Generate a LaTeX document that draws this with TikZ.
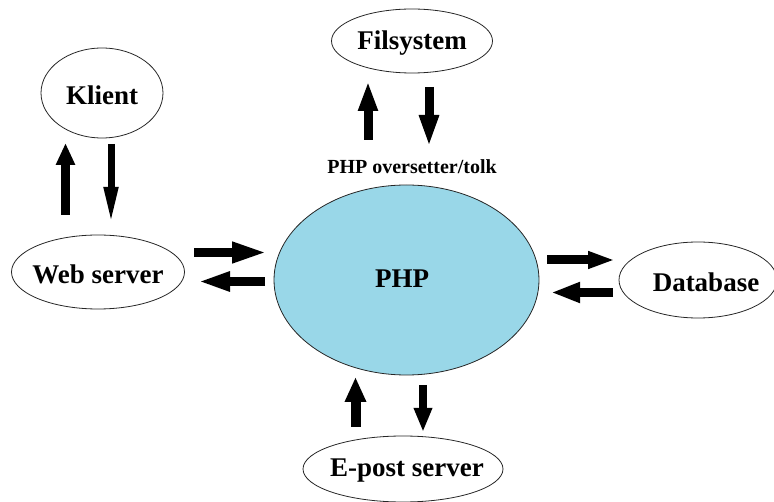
\documentclass[tikz,border=0pt]{standalone}
\usepackage{fontspec}
\setmainfont{Liberation Serif}
\usetikzlibrary{arrows.meta,shapes.geometric}
\definecolor{phpblue}{RGB}{153,215,232}
\tikzset{
  oval/.style={ellipse, draw=black!85, line width=0.8pt, fill=white, inner sep=0pt},
  lbl/.style={font=\fontsize{27}{30}\selectfont\bfseries, inner sep=0pt},
  small/.style={font=\fontsize{20}{24}\selectfont\bfseries, inner sep=0pt},
  flow/.style={line width=9pt, -{Triangle[length=22pt,width=18pt]}},
  thin flow/.style={line width=7pt, -{Triangle[length=38pt,width=13pt]}},
}
\begin{document}
\begin{tikzpicture}[x=1pt,y=-1pt]
\useasboundingbox (0,0) rectangle (774,502);
% the ellipses
\node[oval, minimum width=122pt, minimum height=90pt] (klient) at (102,93) {};
\node[lbl] (klienttxt) at (102,95) {Klient};
\node[oval, minimum width=161pt, minimum height=64pt] (fil) at (412,41) {};
\node[lbl] (filtxt) at (412,43) {Filsystem};
\node[oval, minimum width=173pt, minimum height=74pt] (web) at (98,272) {};
\node[lbl] (webtxt) at (98,274) {Web server};
\node[oval, fill=phpblue, minimum width=265pt, minimum height=190pt] (php) at (406.5,280) {};
\node[lbl] (phptxt) at (402,279) {PHP};
\node[oval, minimum width=158pt, minimum height=76pt] (db) at (698,280) {};
\node[lbl] (dbtxt) at (706,282) {Database};
\node[oval, minimum width=200pt, minimum height=66pt] (mail) at (403,469) {};
\node[lbl] (mailtxt) at (407,471) {E-post server};
\node[small] (tolk) at (412,167) {PHP oversetter/tolk};
% arrow end points
\coordinate (k1a) at (65.5,215); \coordinate (k1b) at (65.5,143);
\coordinate (k2a) at (111,144); \coordinate (k2b) at (111,225);
\coordinate (f1a) at (368,140); \coordinate (f1b) at (368,81);
\coordinate (f2a) at (429,87); \coordinate (f2b) at (429,147);
\coordinate (w1a) at (194,252.5); \coordinate (w1b) at (268,252.5);
\coordinate (w2a) at (265,281.5); \coordinate (w2b) at (198,281.5);
\coordinate (d1a) at (547,260); \coordinate (d1b) at (615,260);
\coordinate (d2a) at (613,292.5); \coordinate (d2b) at (551,292.5);
\coordinate (m1a) at (355.5,427); \coordinate (m1b) at (355.5,377);
\coordinate (m2a) at (423,385); \coordinate (m2b) at (423,432);
% block arrows
\draw[flow] (k1a) -- (k1b);
\draw[thin flow] (k2a) -- (k2b);
\draw[flow, -{Triangle[length=30pt,width=18pt]}] (f1a) -- (f1b);
\draw[flow, -{Triangle[length=32pt,width=18pt]}] (f2a) -- (f2b);
\draw[flow, -{Triangle[length=36pt,width=19pt]}] (w1a) -- (w1b);
\draw[flow, -{Triangle[length=32pt,width=18pt]}] (w2a) -- (w2b);
\draw[flow, -{Triangle[length=27pt,width=16pt]}] (d1a) -- (d1b);
\draw[flow, -{Triangle[length=29pt,width=19pt]}] (d2a) -- (d2b);
\draw[flow, line width=10pt, -{Triangle[length=25pt,width=20pt]}] (m1a) -- (m1b);
\draw[flow, line width=8pt, -{Triangle[length=24pt,width=17pt]}] (m2a) -- (m2b);
\end{tikzpicture}
\end{document}
